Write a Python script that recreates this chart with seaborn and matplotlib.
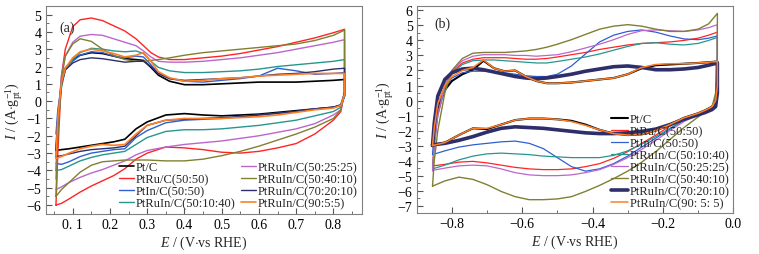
import numpy as np
import pandas as pd
import matplotlib
matplotlib.use("Agg")
import matplotlib.pyplot as plt
import seaborn as sns
from matplotlib.ticker import MultipleLocator

# sample names / colours (same order in both panels)
labels_a = ["Pt/C", "PtRu/C(50:50)", "PtIn/C(50:50)", "PtRuIn/C(50:10:40)",
            "PtRuIn/C(50:25:25)", "PtRuIn/C(50:40:10)", "PtRuIn/C(70:20:10)", "PtRuIn/C(90:5:5)"]
labels_b = ["Pt/C", "PtRu/C(50:50)", "PtIn/C(50:50)", "PtRuIn/C(50:10:40)",
            "PtRuIn/C(50:25:25)", "PtRuIn/C(50:40:10)", "PtRuIn/C(70:20:10)", "PtRuIn/C(90: 5: 5)"]
colors = ["#000000", "#ff2424", "#2f5fd0", "#27968f",
          "#bb66cc", "#808032", "#2e2e6a", "#ff7f27"]

# ---- panel (a): potential grids (anodic sweep, then cathodic sweep)
e_a_up = [0.055, 0.06, 0.07, 0.08, 0.10, 0.12, 0.15, 0.18, 0.21, 0.24, 0.27, 0.29, 0.31,
          0.33, 0.36, 0.40, 0.45, 0.50, 0.55, 0.60, 0.65, 0.70, 0.75, 0.80, 0.83]
e_a_dn = [0.83, 0.82, 0.80, 0.75, 0.70, 0.65, 0.60, 0.55, 0.50, 0.45, 0.40, 0.35, 0.30,
          0.27, 0.24, 0.21, 0.18, 0.15, 0.12, 0.09, 0.07, 0.055]

a_pt_up = [-2.8, -1.0, 1.2, 1.9, 2.4, 2.65, 2.8, 2.75, 2.6, 2.45, 2.4, 2.35, 1.95,
           1.5, 1.15, 0.95, 0.95, 1.0, 1.05, 1.1, 1.1, 1.1, 1.15, 1.2, 1.25]
a_ptru_up = [-6.0, -3.0, 1.5, 3.0, 4.3, 4.7, 4.8, 4.65, 4.35, 4.05, 3.6, 3.2, 2.8,
             2.55, 2.4, 2.4, 2.5, 2.6, 2.75, 2.95, 3.15, 3.4, 3.65, 3.95, 4.15]
a_ptin_up = [-1.9, -0.5, 1.0, 1.8, 2.3, 2.65, 2.85, 2.8, 2.6, 2.5, 2.6, 2.55, 2.1,
             1.6, 1.3, 1.15, 1.1, 1.2, 1.3, 1.45, 1.9, 1.75, 1.55, 1.6, 1.65]
a_51040_up = [-4.0, -1.5, 0.8, 1.8, 2.4, 2.8, 3.05, 3.0, 2.9, 2.85, 2.9, 2.75, 2.3,
              1.95, 1.75, 1.65, 1.65, 1.7, 1.75, 1.85, 2.0, 2.1, 2.2, 2.3, 2.4]
a_52525_up = [-4.5, -1.0, 1.5, 2.6, 3.4, 3.75, 3.85, 3.8, 3.6, 3.4, 3.2, 2.9, 2.55,
              2.3, 2.25, 2.25, 2.3, 2.4, 2.5, 2.65, 2.8, 3.0, 3.2, 3.4, 3.55]
a_54010_up = [-5.5, -2.0, 1.3, 2.6, 3.3, 3.6, 3.45, 3.0, 2.65, 2.4, 2.3, 2.3, 2.35,
              2.4, 2.5, 2.65, 2.8, 2.9, 3.0, 3.1, 3.2, 3.3, 3.5, 3.8, 4.1]
a_72010_up = [-3.2, -1.0, 1.0, 1.8, 2.2, 2.4, 2.5, 2.45, 2.35, 2.25, 2.3, 2.3, 2.0,
              1.6, 1.3, 1.2, 1.25, 1.3, 1.35, 1.45, 1.55, 1.6, 1.7, 1.85, 1.9]
a_9055_up = [-3.3, -1.0, 1.1, 1.9, 2.5, 2.85, 3.0, 2.9, 2.75, 2.55, 2.65, 2.8, 2.3,
             1.7, 1.35, 1.15, 1.2, 1.3, 1.35, 1.45, 1.5, 1.55, 1.6, 1.6, 1.6]

a_pt_dn = [0.3, -0.25, -0.35, -0.45, -0.55, -0.65, -0.75, -0.8, -0.85, -0.8, -0.72,
           -0.8, -1.2, -1.6, -2.2, -2.35, -2.45, -2.55, -2.65, -2.75, -2.8, -2.85]
a_ptru_dn = [0.5, -0.6, -1.1, -1.9, -2.45, -2.7, -2.9, -3.0, -2.95, -2.8, -2.7,
             -2.65, -3.0, -3.35, -3.9, -4.3, -4.6, -4.9, -5.25, -5.65, -5.9, -6.0]
a_ptin_dn = [0.3, -0.25, -0.35, -0.45, -0.6, -0.7, -0.8, -0.9, -1.0, -1.05, -1.1,
             -1.25, -1.7, -2.1, -2.75, -2.8, -2.9, -3.0, -3.2, -3.5, -3.65, -3.6]
a_51040_dn = [0.3, -0.35, -0.6, -0.85, -1.1, -1.25, -1.4, -1.5, -1.6, -1.65, -1.65,
              -1.75, -2.1, -2.5, -2.9, -3.0, -3.1, -3.25, -3.45, -3.75, -3.95, -4.0]
a_52525_dn = [0.5, -0.5, -0.8, -1.3, -1.6, -1.8, -2.0, -2.15, -2.3, -2.4, -2.5,
              -2.65, -2.85, -3.1, -3.45, -3.7, -3.95, -4.15, -4.4, -4.7, -4.95, -5.1]
a_54010_dn = [0.5, -0.5, -1.0, -1.5, -1.9, -2.25, -2.6, -2.9, -3.15, -3.35, -3.45,
              -3.45, -3.4, -3.4, -3.4, -3.45, -3.5, -3.7, -4.1, -4.7, -5.1, -5.5]
a_72010_dn = [0.5, -0.2, -0.35, -0.45, -0.6, -0.7, -0.8, -0.9, -0.95, -1.0, -1.05,
              -1.1, -1.4, -2.0, -2.6, -2.7, -2.75, -2.8, -2.9, -3.05, -3.15, -3.2]
a_9055_dn = [0.4, -0.25, -0.4, -0.5, -0.65, -0.8, -0.9, -0.95, -1.0, -1.0, -1.0,
             -1.1, -1.4, -1.9, -2.5, -2.55, -2.5, -2.6, -2.75, -3.0, -3.2, -3.3]

# ---- panel (b)
e_b_up = [-0.855, -0.85, -0.84, -0.82, -0.80, -0.77, -0.74, -0.71, -0.68, -0.65, -0.62,
          -0.59, -0.56, -0.53, -0.50, -0.46, -0.42, -0.38, -0.34, -0.30, -0.26, -0.22,
          -0.18, -0.14, -0.10, -0.07, -0.045]
e_b_dn = [-0.045, -0.05, -0.06, -0.08, -0.10, -0.14, -0.18, -0.22, -0.26, -0.30, -0.34,
          -0.38, -0.42, -0.46, -0.50, -0.54, -0.58, -0.62, -0.66, -0.70, -0.74, -0.78,
          -0.82, -0.855]

b_pt_up = [-3.0, -2.0, -0.5, 0.7, 1.3, 1.75, 2.05, 2.65, 2.15, 1.95, 2.0, 1.6, 1.3, 1.15,
           1.15, 1.2, 1.3, 1.4, 1.5, 1.75, 2.15, 2.35, 2.4, 2.45, 2.5, 2.55, 2.6]
b_ptru_up = [-4.4, -2.8, -0.8, 0.9, 1.9, 2.5, 2.75, 2.85, 2.85, 2.85, 2.8, 2.75, 2.75, 2.8,
             2.9, 3.05, 3.2, 3.4, 3.55, 3.7, 3.8, 3.85, 3.9, 4.0, 4.15, 4.35, 4.55]
b_ptin_up = [-3.6, -2.0, -0.3, 0.9, 1.5, 1.85, 1.95, 1.95, 1.9, 1.85, 1.75, 1.65, 1.6, 1.6,
             1.75, 2.3, 3.1, 3.9, 4.35, 4.6, 4.7, 4.55, 4.3, 4.1, 4.05, 4.15, 4.3]
b_51040_up = [-4.6, -3.0, -1.0, 0.8, 1.8, 2.4, 2.65, 2.7, 2.7, 2.65, 2.6, 2.55, 2.5, 2.5,
              2.6, 2.75, 2.9, 3.1, 3.35, 3.6, 3.8, 3.85, 3.75, 3.7, 3.8, 4.0, 4.2]
b_52525_up = [-4.7, -3.0, -1.0, 1.0, 2.0, 2.65, 2.95, 3.05, 3.05, 3.05, 3.0, 3.0, 2.95, 3.0,
              3.05, 3.25, 3.5, 3.75, 4.05, 4.4, 4.65, 4.7, 4.65, 4.6, 4.7, 4.85, 5.05]
b_54010_up = [-5.7, -4.0, -2.0, 0.5, 2.0, 2.8, 3.15, 3.2, 3.2, 3.2, 3.25, 3.3, 3.4, 3.55,
              3.75, 4.05, 4.4, 4.75, 4.95, 5.05, 4.95, 4.75, 4.6, 4.6, 4.75, 5.1, 5.8]
b_72010_up = [-3.0, -1.5, 0.3, 1.4, 1.85, 2.1, 2.15, 2.05, 1.9, 1.75, 1.6, 1.5, 1.45, 1.5,
              1.6, 1.75, 1.95, 2.1, 2.25, 2.3, 2.2, 2.05, 2.05, 2.1, 2.2, 2.35, 2.5]
b_9055_up = [-3.0, -1.8, -0.2, 1.0, 1.6, 2.0, 2.2, 2.7, 2.15, 1.95, 2.0, 1.6, 1.3, 1.15,
             1.15, 1.2, 1.3, 1.4, 1.5, 1.75, 2.2, 2.4, 2.45, 2.45, 2.5, 2.55, 2.6]

b_pt_dn = [1.0, 0.0, -0.4, -0.65, -0.85, -1.15, -1.6, -2.0, -2.25, -2.3, -2.2, -1.95,
           -1.6, -1.35, -1.25, -1.2, -1.2, -1.3, -1.6, -1.9, -1.85, -2.3, -2.8, -3.0]
b_ptru_dn = [1.5, -0.2, -0.5, -0.7, -0.9, -1.2, -1.7, -2.3, -2.85, -3.4, -3.85, -4.2,
             -4.4, -4.55, -4.6, -4.6, -4.55, -4.45, -4.3, -4.15, -4.05, -4.1, -4.25, -4.35]
b_ptin_dn = [2.0, 0.0, -0.5, -0.75, -0.95, -1.3, -1.9, -2.5, -3.1, -3.7, -4.2, -4.55,
             -4.7, -4.4, -3.8, -3.2, -2.85, -2.7, -2.75, -2.85, -2.95, -3.1, -3.35, -3.6]
b_51040_dn = [1.5, -0.2, -0.5, -0.75, -0.95, -1.3, -1.85, -2.4, -2.9, -3.35, -3.65, -3.8,
              -3.8, -3.8, -3.75, -3.7, -3.6, -3.55, -3.5, -3.55, -3.7, -3.95, -4.3, -4.55]
b_52525_dn = [2.0, 0.0, -0.5, -0.75, -0.95, -1.4, -2.0, -2.65, -3.25, -3.8, -4.25, -4.6,
              -4.8, -4.95, -5.0, -5.0, -4.95, -4.8, -4.55, -4.35, -4.3, -4.35, -4.5, -4.65]
b_54010_dn = [3.0, 0.5, -0.4, -0.75, -1.1, -1.8, -2.6, -3.4, -4.1, -4.7, -5.2, -5.65,
              -6.05, -6.4, -6.55, -6.6, -6.6, -6.4, -6.05, -5.6, -5.25, -5.1, -5.35, -5.7]
b_72010_dn = [0.5, -0.4, -0.6, -0.8, -0.95, -1.25, -1.6, -1.9, -2.05, -2.15, -2.2, -2.2,
              -2.15, -2.05, -1.95, -1.85, -1.8, -1.75, -1.85, -2.1, -2.4, -2.65, -2.85, -2.95]
b_9055_dn = [1.0, 0.0, -0.4, -0.65, -0.85, -1.15, -1.6, -2.0, -2.25, -2.3, -2.2, -1.95,
             -1.65, -1.4, -1.25, -1.2, -1.2, -1.3, -1.6, -1.85, -1.85, -2.3, -2.8, -3.0]

a_up = [a_pt_up, a_ptru_up, a_ptin_up, a_51040_up, a_52525_up, a_54010_up, a_72010_up, a_9055_up]
a_dn = [a_pt_dn, a_ptru_dn, a_ptin_dn, a_51040_dn, a_52525_dn, a_54010_dn, a_72010_dn, a_9055_dn]
b_up = [b_pt_up, b_ptru_up, b_ptin_up, b_51040_up, b_52525_up, b_54010_up, b_72010_up, b_9055_up]
b_dn = [b_pt_dn, b_ptru_dn, b_ptin_dn, b_51040_dn, b_52525_dn, b_54010_dn, b_72010_dn, b_9055_dn]


def loop_frame(labels, e_up, e_dn, ups, dns):
    rows = []
    for lab, up, dn in zip(labels, ups, dns):
        e = list(e_up) + list(e_dn)
        i = list(up) + list(dn)
        rows.append(pd.DataFrame({"E": e, "I": i, "sample": lab}))
    return pd.concat(rows, ignore_index=True)


df_a = loop_frame(labels_a, e_a_up, e_a_dn, a_up, a_dn)
df_b = loop_frame(labels_b, e_b_up, e_b_dn, b_up, b_dn)

sns.set_theme(style="ticks")
plt.rcParams["font.family"] = ["Liberation Serif", "DejaVu Serif"]
plt.rcParams["mathtext.fontset"] = "custom"
plt.rcParams["mathtext.rm"] = "Liberation Serif"
plt.rcParams["mathtext.it"] = "Liberation Serif:italic"
plt.rcParams["axes.edgecolor"] = "#808080"
plt.rcParams["axes.linewidth"] = 0.8

fig = plt.figure(figsize=(7.59, 2.55), dpi=100)
ax_a = fig.add_axes([0.060, 0.158, 0.417, 0.815])
ax_b = fig.add_axes([0.549, 0.160, 0.417, 0.813])

lw_a = [1.2, 1.0, 1.0, 1.0, 1.0, 1.0, 1.0, 1.2]
lw_b = [1.5, 0.9, 0.9, 0.9, 0.9, 1.0, 2.6, 1.1]

for ax, df, labels, lws in [(ax_a, df_a, labels_a, lw_a), (ax_b, df_b, labels_b, lw_b)]:
    for lab, col, lw in zip(labels, colors, lws):
        sub = df[df["sample"] == lab]
        sns.lineplot(data=sub, x="E", y="I", sort=False, estimator=None,
                     color=col, lw=lw, label=lab, ax=ax)
    ax.tick_params(which="both", direction="in", colors="#555555", labelcolor="black",
                   labelsize=10, top=False, right=False)
    ax.tick_params(which="major", length=4, width=0.8, pad=3)
    ax.tick_params(which="minor", length=2, width=0.6)
    for s in ax.spines.values():
        s.set_visible(True)
    ax.set_ylabel(r"$I$ / (A$\cdot$g$_{\rm pt}^{-1}$)", fontsize=10, labelpad=1)
    ax.set_xlabel(r"$E$ / (V$\cdot$vs RHE)", fontsize=10, labelpad=2)

ax_a.set_xlim(0.027, 0.877)
ax_a.set_ylim(-6.5, 5.5)
ax_a.xaxis.set_minor_locator(MultipleLocator(0.05))
ax_a.yaxis.set_major_locator(MultipleLocator(1))
ax_a.yaxis.set_minor_locator(MultipleLocator(0.5))
ax_a.set_xticks([0.1, 0.2, 0.3, 0.4, 0.5, 0.6, 0.7, 0.8])
ax_a.set_xticklabels(["0. 1", "0.2", "0.3", "0.4", "0.5", "0.6", "0.7", "0.8"])
ax_a.text(0.045, 0.93, "(a)", transform=ax_a.transAxes, fontsize=10, va="top")
ax_a.legend(ncol=2, loc="lower right", frameon=False, fontsize=9,
            handlelength=1.2, handletextpad=0.15, labelspacing=0.0,
            columnspacing=0.4, borderaxespad=0.15, borderpad=0.2)

ax_b.set_xlim(-0.9, 0.0)
ax_b.set_ylim(-7.5, 6.3)
ax_b.xaxis.set_major_locator(MultipleLocator(0.2))
ax_b.xaxis.set_minor_locator(MultipleLocator(0.1))
ax_b.yaxis.set_major_locator(MultipleLocator(1))
ax_b.yaxis.set_minor_locator(MultipleLocator(0.5))
ax_b.text(0.055, 0.95, "(b)", transform=ax_b.transAxes, fontsize=10, va="top")
ax_b.legend(loc="lower right", frameon=False, fontsize=9,
            handlelength=1.3, handletextpad=0.15, labelspacing=0.0,
            borderaxespad=0.1, borderpad=0.2)

fig.savefig("out.png", dpi=100)
